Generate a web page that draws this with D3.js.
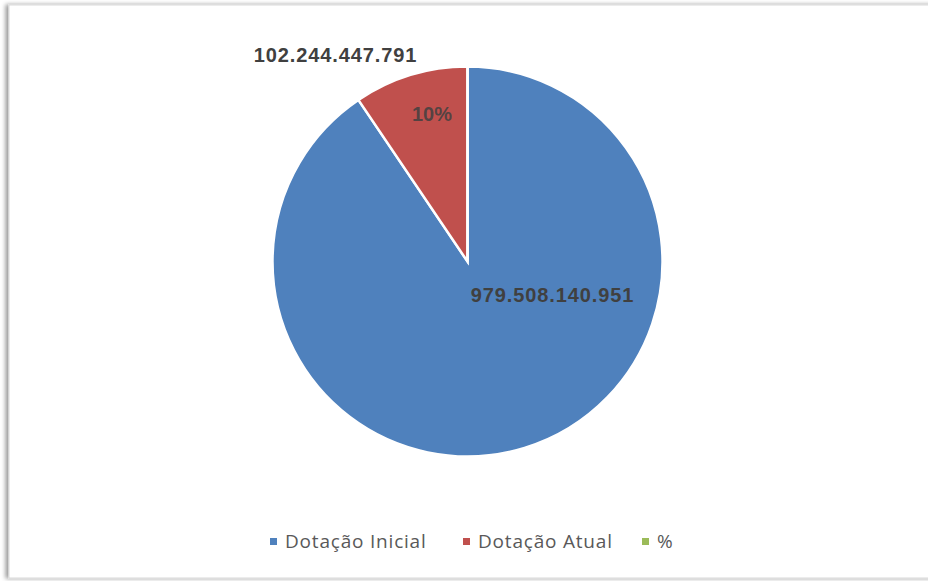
<!DOCTYPE html>
<html>
<head>
<meta charset="utf-8">
<script src="https://cdn.jsdelivr.net/npm/d3@7"></script>
<style>
  body { margin: 0; background: #fff; }
  svg { display: block; }
</style>
</head>
<body>
<svg id="chart"></svg>
<script>
let w = 928;
let h = 581;
let radius = 195;
let cx = 467.5, cy = 261.5;

// data
let categories = ["Dotação Inicial", "Dotação Atual", "%"];
let values = [979508140951, 102244447791, 0];
let valueLabels = ["979.508.140.951", "102.244.447.791", ""];
let pctLabel = "10%";
let colors = ["#4f81bd", "#c0504d", "#9bbb59"];

let svg = d3.select("#chart")
    .attr("width", w)
    .attr("height", h);

// shadow for the chart frame
let defs = svg.append("defs");
let f = defs.append("filter").attr("id", "shadow")
    .attr("x", "-5%").attr("y", "-5%").attr("width", "110%").attr("height", "110%");
f.append("feDropShadow")
    .attr("dx", -3).attr("dy", 0).attr("stdDeviation", 2)
    .attr("flood-color", "#000").attr("flood-opacity", 0.4);

svg.append("rect")
    .attr("x", 9).attr("y", 5)
    .attr("width", 940).attr("height", 573)
    .attr("fill", "#fff")
    .attr("stroke", "#d9d9d9")
    .attr("stroke-width", 1)
    .attr("filter", "url(#shadow)");

let color = d3.scaleOrdinal().domain(categories).range(colors);

let pie = d3.pie().sort(null).value(d => d)(values);
let arc = d3.arc().innerRadius(0).outerRadius(radius);

let chart = svg.append("g")
    .attr("transform", `translate(${cx}, ${cy})`);

//slices
chart.selectAll("path")
    .data(pie)
    .enter()
    .append("path")
        .attr("d", arc)
        .attr("fill", (d, i) => color(categories[i]))
        .attr("stroke", "#fff")
        .attr("stroke-width", 2.5);

// value labels
let lblFont = "'Liberation Sans', Arial, sans-serif";
chart.append("text")
    .attr("x", 85).attr("y", 40.5)
    .attr("text-anchor", "middle")
    .attr("font-family", lblFont)
    .attr("font-weight", "bold")
    .attr("font-size", "20px")
    .attr("letter-spacing", "0.9px")
    .attr("fill", "#404040")
    .text(valueLabels[0]);

chart.append("text")
    .attr("x", -132).attr("y", -199.5)
    .attr("text-anchor", "middle")
    .attr("font-family", lblFont)
    .attr("font-weight", "bold")
    .attr("font-size", "20px")
    .attr("letter-spacing", "0.9px")
    .attr("fill", "#404040")
    .text(valueLabels[1]);

// percentage label inside red slice
chart.append("text")
    .attr("x", -35.5).attr("y", -140.5)
    .attr("text-anchor", "middle")
    .attr("font-family", lblFont)
    .attr("font-weight", "bold")
    .attr("font-size", "20px")
    .attr("fill", "#404040")
    .attr("fill-opacity", 0.85)
    .text(pctLabel);

// legend
let legend = svg.append("g").attr("transform", "translate(0, 548)");
let legX = [270, 463, 642];
let items = legend.selectAll("g")
    .data(categories)
    .enter()
    .append("g")
        .attr("transform", (d, i) => `translate(${legX[i]}, 0)`);
items.append("rect")
    .attr("x", 0).attr("y", -10)
    .attr("width", 7).attr("height", 7)
    .attr("fill", d => color(d));
items.append("text")
    .attr("x", 15)
    .attr("y", 0)
    .attr("font-family", "'Open Sans', sans-serif")
    .attr("font-size", "19px")
    .attr("letter-spacing", "0.8px")
    .attr("fill", "#595959")
    .text(d => d);
</script>
</body>
</html>
